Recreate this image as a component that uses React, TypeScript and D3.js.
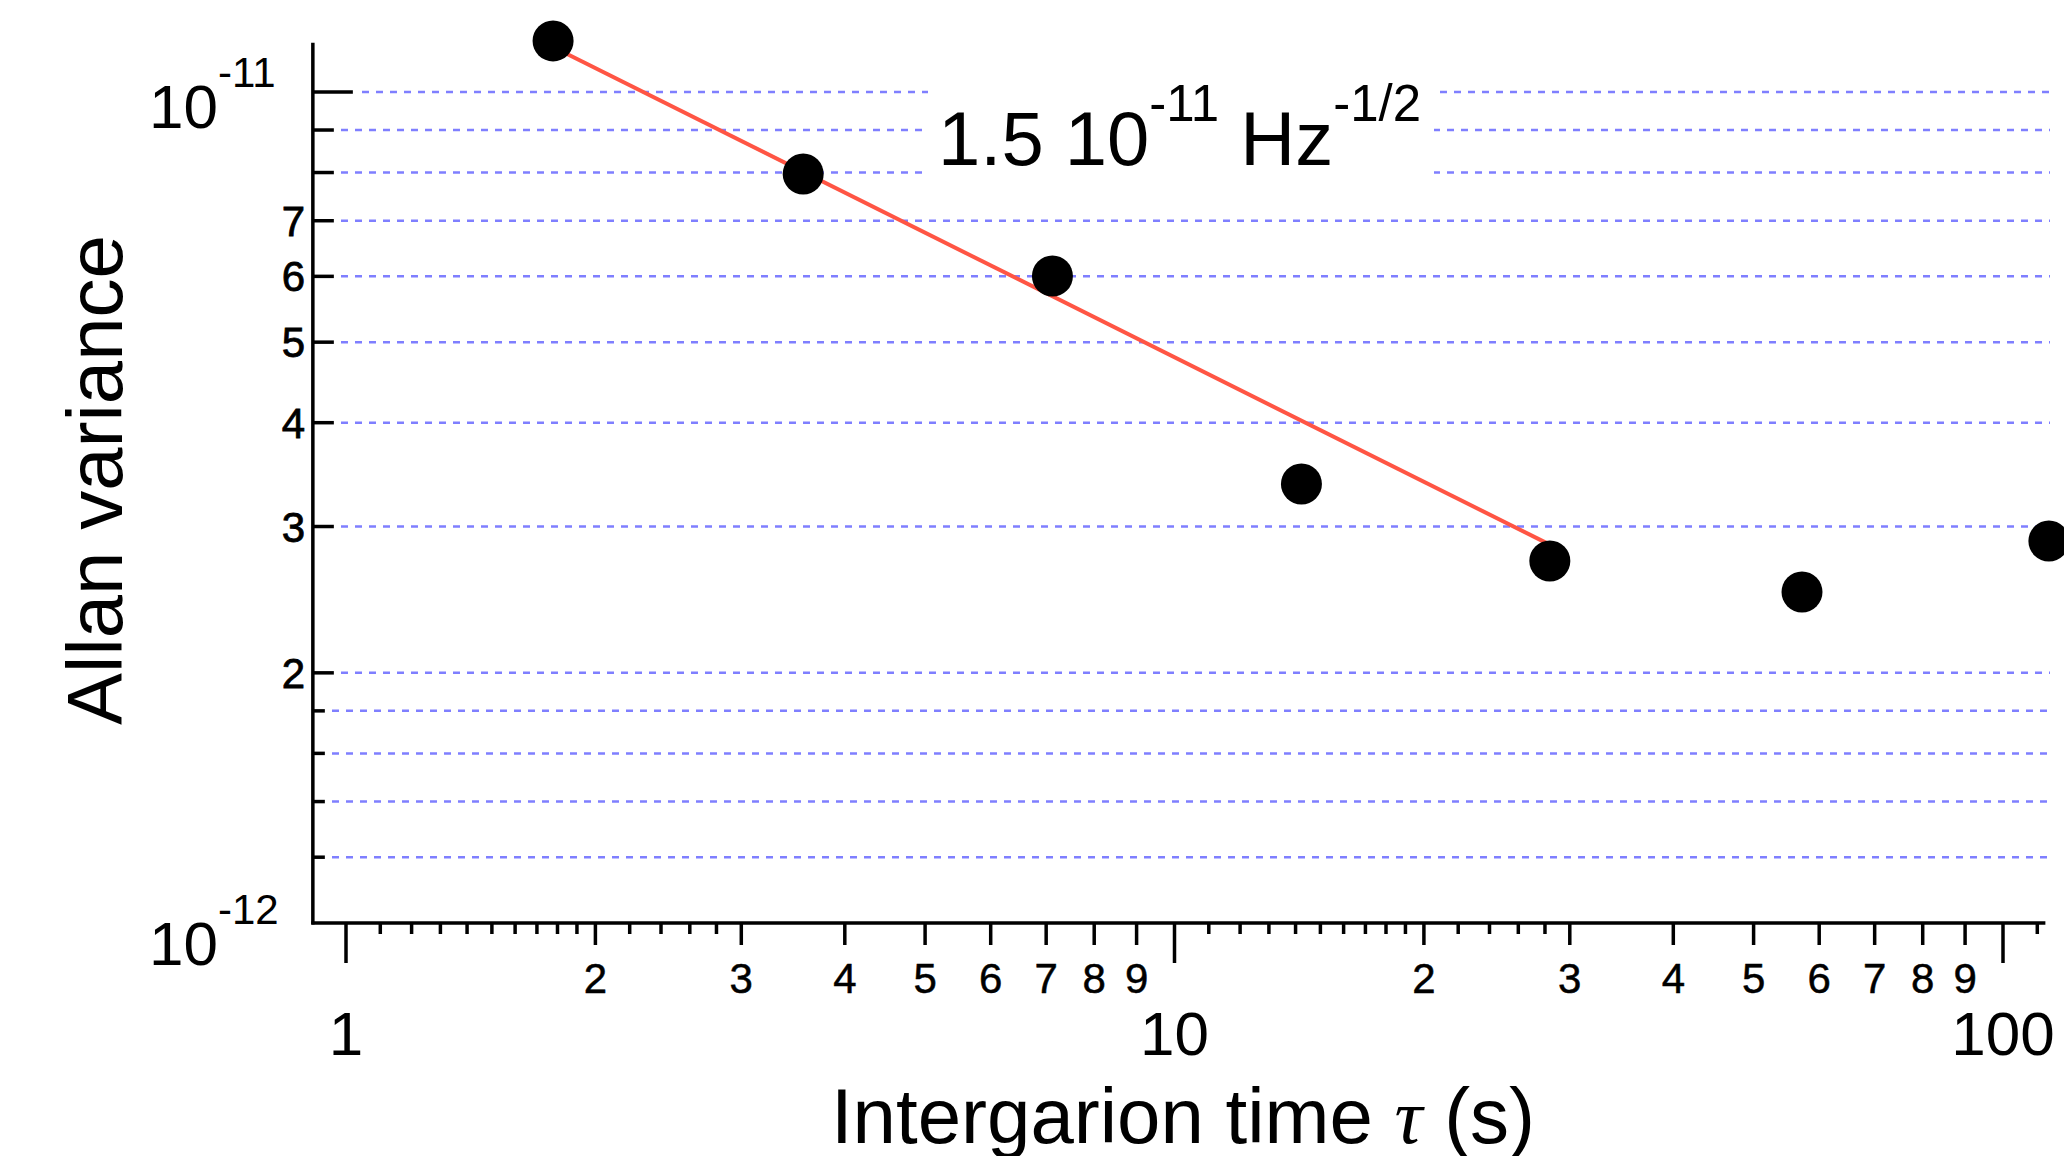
import React from "react";
import * as d3 from "d3";

// ---- data ----
const tau = [1.778, 3.563, 7.123, 14.23, 28.38, 57.2, 113.6];
const allan = [1.152e-11, 7.967e-12, 6.005e-12, 3.375e-12, 2.727e-12, 2.502e-12, 2.882e-12];
const fitTau = [1.778, 28.3];
const fitAllan = [1.133e-11, 2.857e-12];

const xMajor = [1, 10, 100];
const xMajorLabels = ["1", "10", "100"];
const xMedium = [2, 3, 4, 5, 6, 7, 8, 9, 20, 30, 40, 50, 60, 70, 80, 90];
const xMediumLabels = ["2", "3", "4", "5", "6", "7", "8", "9", "2", "3", "4", "5", "6", "7", "8", "9"];
const xMinor = [1.1, 1.2, 1.3, 1.4, 1.5, 1.6, 1.7, 1.8, 1.9, 2.2, 2.4, 2.6, 2.8,
  11, 12, 13, 14, 15, 16, 17, 18, 19, 22, 24, 26, 28, 110];

const yMajor = [1e-12, 1e-11];
const yMajorExp = ["-12", "-11"];
const yMedium = [2e-12, 3e-12, 4e-12, 5e-12, 6e-12, 7e-12, 8e-12, 9e-12];
const yMediumLabels = ["2", "3", "4", "5", "6", "7", "", ""];
const yMinor = [1.2e-12, 1.4e-12, 1.6e-12, 1.8e-12];

const xExtent = [0.912, 112.5];
const yExtent = [1e-12, 1.146e-11];

const FONT = "'Liberation Sans', Arial, Helvetica, sans-serif";

export default function App() {
  const x = d3.scaleLog().domain([1, 100]).range([346, 2003]);
  const y = d3.scaleLog().domain([1e-12, 1e-11]).range([923, 92]);
  const axisX = x(xExtent[0]);
  const axisY = y(yExtent[0]);
  const xRight = 2050;
  const grid = "#7f7fff";

  const fitLine = d3.line<number>()
    .x((_, i) => x(fitTau[i]))
    .y((d) => y(d))(fitAllan);

  const gridLines = [
    ...yMinor.map((v) => ({ v, start: 332 })),
    ...yMedium.map((v) => ({ v, start: 341 })),
    { v: 1e-11, start: 362 },
  ];

  return (
    <svg width={2064} height={1156} style={{ position: "absolute", left: 0, top: 0, background: "#fff" }}
      fontFamily={FONT}>
      <rect x={0} y={0} width={2064} height={1156} fill="#fff" />
      {/* grid */}
      {gridLines.map((g, i) => (
        <line key={"g" + i} x1={g.start} x2={xRight} y1={y(g.v)} y2={y(g.v)}
          stroke={grid} strokeWidth={2.5} strokeDasharray="7,7" />
      ))}
      {/* white box behind annotation */}
      <rect x={928} y={58} width={506} height={140} fill="#fff" />

      {/* axes */}
      <line x1={axisX} x2={axisX} y1={y(yExtent[1])} y2={axisY + 1.5} stroke="#000" strokeWidth={3.5} />
      <line x1={axisX - 1.5} x2={x(xExtent[1])} y1={axisY} y2={axisY} stroke="#000" strokeWidth={3.5} />

      {/* y ticks */}
      {yMajor.slice(1).map((v, i) => (
        <line key={"ymj" + i} x1={axisX} x2={axisX + 40} y1={y(v)} y2={y(v)} stroke="#000" strokeWidth={3.5} />
      ))}
      {yMedium.map((v, i) => (
        <line key={"ymd" + i} x1={axisX} x2={axisX + 21} y1={y(v)} y2={y(v)} stroke="#000" strokeWidth={3.5} />
      ))}
      {yMinor.map((v, i) => (
        <line key={"ymn" + i} x1={axisX} x2={axisX + 12} y1={y(v)} y2={y(v)} stroke="#000" strokeWidth={3.5} />
      ))}
      {yMedium.map((v, i) => (
        <text key={"yl" + i} x={305} y={y(v) + 15} fontSize={42} textAnchor="end" fill="#000"
          stroke="#000" strokeWidth={0.8}>
          {yMediumLabels[i]}
        </text>
      ))}
      {yMajor.map((v, i) => (
        <text key={"yM" + i} x={149} y={y(v) + (i === 0 ? 42 : 36)} fontSize={62} fill="#000">
          10
          <tspan fontSize={42} dy={-41}>{yMajorExp[i]}</tspan>
        </text>
      ))}

      {/* x ticks */}
      {xMajor.map((v, i) => (
        <line key={"xmj" + i} x1={x(v)} x2={x(v)} y1={axisY} y2={axisY + 40} stroke="#000" strokeWidth={3.5} />
      ))}
      {xMedium.map((v, i) => (
        <line key={"xmd" + i} x1={x(v)} x2={x(v)} y1={axisY} y2={axisY + 22} stroke="#000" strokeWidth={3.5} />
      ))}
      {xMinor.map((v, i) => (
        <line key={"xmn" + i} x1={x(v)} x2={x(v)} y1={axisY} y2={axisY + 11} stroke="#000" strokeWidth={3.5} />
      ))}
      {xMedium.map((v, i) => (
        <text key={"xl" + i} x={x(v)} y={993} fontSize={42} textAnchor="middle" fill="#000"
          stroke="#000" strokeWidth={0.5}>
          {xMediumLabels[i]}
        </text>
      ))}
      {xMajor.map((v, i) => (
        <text key={"xL" + i} x={x(v)} y={1055} fontSize={62} textAnchor="middle" fill="#000">
          {xMajorLabels[i]}
        </text>
      ))}

      {/* axis titles */}
      <text transform="translate(122,480) rotate(-90)" fontSize={78} textAnchor="middle" fill="#000">
        Allan variance
      </text>
      <text x={1183} y={1143} fontSize={78} textAnchor="middle" fill="#000">
        Intergarion time{" "}
        <tspan fontFamily="'Liberation Serif', 'DejaVu Serif', serif" fontStyle="italic">τ</tspan>
        {" "}(s)
      </text>

      {/* fit line */}
      <path d={fitLine || ""} fill="none" stroke="#ff5544" strokeWidth={4} />

      {/* points */}
      {tau.map((t, i) => (
        <circle key={"p" + i} cx={x(t)} cy={y(allan[i])} r={20.5} fill="#000" />
      ))}

      {/* annotation */}
      <text x={938} y={165} fontSize={76} fill="#000">
        1.5 10
        <tspan fontSize={51} dy={-44}>-11</tspan>
        <tspan dy={44}> Hz</tspan>
        <tspan fontSize={51} dy={-44}>-1/2</tspan>
      </text>
    </svg>
  );
}
